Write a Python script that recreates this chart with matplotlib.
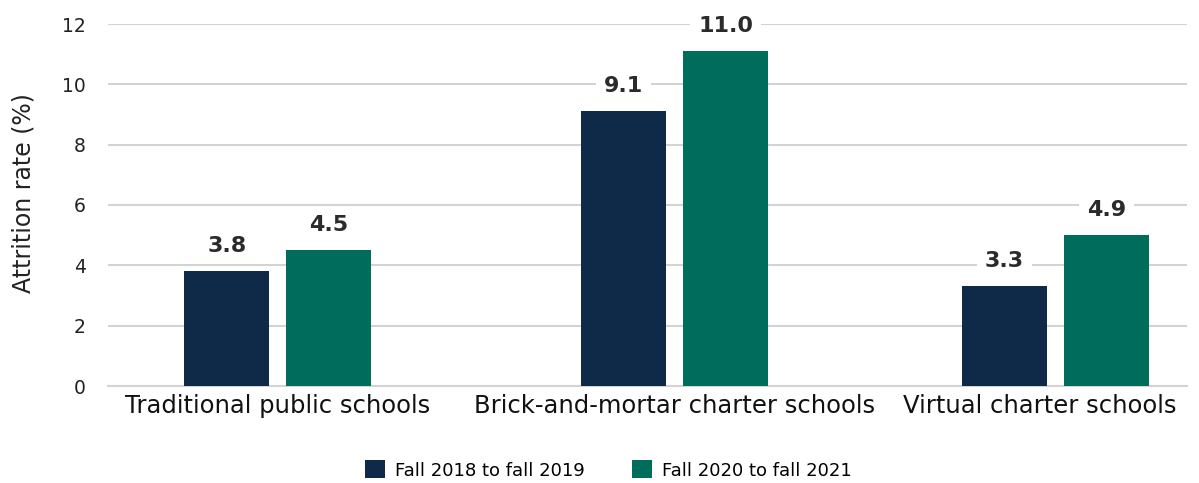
import matplotlib
matplotlib.use("Agg")
import matplotlib.pyplot as plt
from matplotlib.patches import Patch

categories = ["Traditional public schools", "Brick-and-mortar charter schools", "Virtual charter schools"]
series_names = ["Fall 2018 to fall 2019", "Fall 2020 to fall 2021"]
values_2018 = [3.8, 9.1, 3.3]
values_2020 = [4.5, 11.1, 5.0]
labels_2018 = ["3.8", "9.1", "3.3"]
labels_2020 = ["4.5", "11.0", "4.9"]
yticks = [0, 2, 4, 6, 8, 10, 12]

# layout
group_pos = [0.0, 1.041, 2.041]
label_pos = [0.0, 1.041, 2.0]
bar_w = 0.223
offset = 0.134
colors = ["#0F2A48", "#006C5B"]
plt.rcParams["font.family"] = "DejaVu Sans"

fig = plt.figure(figsize=(11.99, 4.83), dpi=100)
ax = fig.add_axes([108/1199, 1 - 386/483, (1187-108)/1199, (386-24)/483])

for vals, labs, sign, c in [(values_2018, labels_2018, -1, colors[0]), (values_2020, labels_2020, 1, colors[1])]:
    xs = [g + sign*offset for g in group_pos]
    bars = ax.bar(xs, vals, width=bar_w, color=c, zorder=3)
    for b, lab in zip(bars, labs):
        ax.annotate(lab, (b.get_x() + b.get_width()/2, b.get_height()),
                    xytext=(0, 11), textcoords="offset points", ha="center", va="bottom",
                    fontsize=16, fontweight="bold", color="#2b2b2b", zorder=5,
                    bbox=dict(boxstyle="square,pad=0.35", fc="white", ec="none"),
                    annotation_clip=False)

ax.set_ylim(0, 12)
ax.set_xlim(-0.446, 2.386)
ax.set_yticks(yticks)
ax.set_yticklabels([str(t) for t in yticks], fontsize=13.5, color="#222222")
ax.set_xticks(label_pos)
ax.set_xticklabels(categories, fontsize=17.5, color="#111111")
ax.tick_params(axis="both", length=0)
ax.tick_params(axis="y", pad=16)
ax.tick_params(axis="x", pad=6)
ax.grid(axis="y", color="#D3D3D3", linewidth=1.5, zorder=0)
for s in ["top", "right", "left"]:
    ax.spines[s].set_visible(False)
ax.spines["bottom"].set_color("#D3D3D3")
ax.spines["bottom"].set_linewidth(1.5)
ax.set_ylabel("Attrition rate (%)", fontsize=17, color="#222222", va="center")
ax.yaxis.set_label_coords(-0.078, 0.532)

handles = [Patch(facecolor=colors[0], label=series_names[0]), Patch(facecolor=colors[1], label=series_names[1])]
fig.legend(handles=handles, loc="center", bbox_to_anchor=(0.5075, 1 - 470/483), ncol=2, frameon=False,
           fontsize=13, handlelength=1.1, handleheight=1.15, columnspacing=2.6, handletextpad=0.55,
           borderpad=0, borderaxespad=0)

fig.savefig("out.png", dpi=100)
